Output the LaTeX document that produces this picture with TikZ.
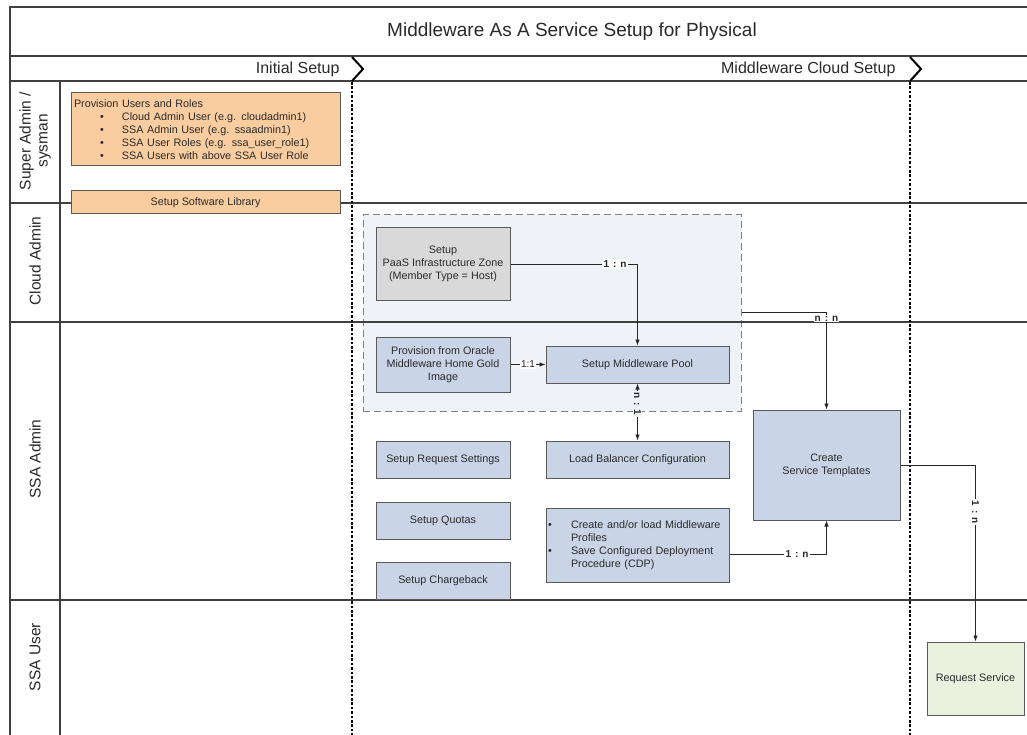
\documentclass[tikz,border=0pt]{standalone}
\usepackage{fontspec}
\setmainfont{Liberation Sans}
\usetikzlibrary{arrows.meta,calc}
\definecolor{orangebox}{HTML}{F9CDA0}
\definecolor{bluebox}{HTML}{C9D5E6}
\definecolor{graybox}{HTML}{D9D9D9}
\definecolor{greenbox}{HTML}{EAF1DE}
\definecolor{groupfill}{HTML}{EFF2F7}
\definecolor{laneline}{HTML}{404040}
\definecolor{boxline}{HTML}{5A5A5A}
\definecolor{txt}{HTML}{2A2A2A}
\tikzset{
  lane/.style={draw=laneline, line width=1.2pt},
  phasedots/.style={draw=black, line width=2.8pt, dash pattern=on 2.6pt off 1.8pt},
  chev/.style={draw=black, line width=2pt, line join=miter},
  boxbase/.style={draw=boxline, line width=1pt, inner sep=2pt, align=center,
    font=\fontsize{10.8}{13}\selectfont, text=txt},
  orangestep/.style={boxbase, fill=orangebox},
  bluestep/.style={boxbase, fill=bluebox},
  graystep/.style={boxbase, fill=graybox},
  greenstep/.style={boxbase, fill=greenbox},
  conn/.style={draw=black!85, line width=0.9pt},
  tip/.style={-{Latex[length=6pt,width=4.5pt]}},
  multlabel/.style={fill=white, inner sep=1.2pt, font=\bfseries\fontsize{10}{12}\selectfont, text=black!85},
  lanelabel/.style={rotate=90, align=center, font=\fontsize{15.5}{17}\selectfont, text=txt},
  phaselabel/.style={anchor=east, font=\fontsize{16}{18}\selectfont, text=txt},
}
\newcommand{\mycolon}{\hspace{4pt}:\hspace{4pt}}
\begin{document}
\begin{tikzpicture}[x=1pt,y=-1pt]
\fill[white] (0,0) rectangle (1027,735);
\useasboundingbox (0,0) rectangle (1027,735);

% group container
\node[draw=gray, fill=groupfill, dash pattern=on 7pt off 4pt, line width=1pt,
      minimum width=378pt, minimum height=196pt, inner sep=0pt] (grp) at (552,313) {};

% frame and lanes
\draw[lane] (1027,7) -- (10,7) -- (10,735);
\draw[lane] (10,56) -- (1027,56);
\draw[lane] (10,81) -- (1027,81);
\draw[lane] (10,203) -- (1027,203);
\draw[lane] (10,322) -- (1027,322);
\draw[lane] (10,600) -- (1027,600);
\draw[lane] (60,81) -- (60,735);

% title and phases
\node[font=\fontsize{19}{22}\selectfont, text=txt] (title) at (572,32) {Middleware As A Service Setup for Physical};
\node[phaselabel] (ph1) at (343,69) {Initial Setup};
\node[phaselabel] (ph2) at (899,69) {Middleware Cloud Setup};
\draw[chev] (352,57) -- (363,69) -- (352,81);
\draw[chev] (910,57) -- (921,69) -- (910,81);
\draw[phasedots] (352,82) -- (352,735);
\draw[phasedots] (910,82) -- (910,735);

% lane labels
\node[lanelabel] (l1) at (35,141) {Super Admin /\\sysman};
\node[lanelabel] (l2) at (35,261) {Cloud Admin};
\node[lanelabel] (l3) at (35,459) {SSA Admin};
\node[lanelabel] (l4) at (35,657) {SSA User};

% boxes
\node[orangestep, minimum width=269pt, minimum height=73pt, align=left, text width=263pt] (prov) at (205.5,129.5)
 {Provision Users and Roles\\
  \hspace*{26pt}\makebox[22pt][l]{•}Cloud Admin User (e.g. cloudadmin1)\\
  \hspace*{26pt}\makebox[22pt][l]{•}SSA Admin User (e.g. ssaadmin1)\\
  \hspace*{26pt}\makebox[22pt][l]{•}SSA User Roles (e.g. ssa\_user\_role1)\\
  \hspace*{26pt}\makebox[22pt][l]{•}SSA Users with above SSA User Role};
\node[orangestep, minimum width=269pt, minimum height=23pt, inner sep=0pt] (swlib) at (205.5,202.5) {Setup Software Library};

\node[graystep, minimum width=134pt, minimum height=72pt] (paas) at (443,264) {Setup\\PaaS Infrastructure Zone\\(Member Type = Host)};
\node[bluestep, minimum width=134pt, minimum height=55pt] (gold) at (443,364.5) {Provision from Oracle\\Middleware Home Gold\\Image};
\node[bluestep, minimum width=183pt, minimum height=37pt] (pool) at (637.5,364.5) {Setup Middleware Pool};
\node[bluestep, minimum width=183pt, minimum height=37pt] (lb) at (637.5,459.5) {Load Balancer Configuration};
\node[bluestep, minimum width=134pt, minimum height=37pt] (req) at (443,459.5) {Setup Request Settings};
\node[bluestep, minimum width=134pt, minimum height=37pt] (quo) at (443,520.5) {Setup Quotas};
\node[bluestep, minimum width=134pt, minimum height=37pt] (chg) at (443,581) {Setup Chargeback};
\node[bluestep, minimum width=183pt, minimum height=74pt, align=left, text width=179pt] (cdp) at (637.5,545)
 {\makebox[23pt][l]{•}Create and/or load Middleware\\
  \hspace*{23pt}Profiles\\
  \makebox[23pt][l]{•}Save Configured Deployment\\
  \hspace*{23pt}Procedure (CDP)};
\node[bluestep, minimum width=147pt, minimum height=110pt] (cst) at (826.5,465) {Create\\Service Templates};
\node[greenstep, minimum width=97pt, minimum height=73pt] (rs) at (975.5,678.5) {Request Service};

% connectors
\draw[conn, tip] (paas.east) -| (pool.north);
\node[multlabel] (m1) at (615,264) {1\mycolon n};
\draw[conn, tip] (gold.east) -- (pool.west);
\node[multlabel, font=\fontsize{10}{12}\selectfont] (m2) at (528,364.5) {1:1};
\draw[conn, {Latex[length=6pt,width=4.5pt]}-{Latex[length=6pt,width=4.5pt]}] (pool.south) -- (lb.north);
\node[multlabel, rotate=-90, fill=groupfill] (m3) at (637.5,404) {n\mycolon 1};
\draw[conn, tip] ([yshift=-9.5pt]cdp.east) -| (cst.south);
\node[multlabel] (m4) at (797,554.5) {1\mycolon n};
\draw[conn, tip] ([yshift=1pt]grp.east) -| (cst.north);
\node[multlabel] (m5) at (826.5,318.5) {n\mycolon n};
\draw[conn, tip] (cst.east) -| (rs.north);
\node[multlabel, rotate=-90] (m6) at (975.5,512) {1\mycolon n};
\end{tikzpicture}
\end{document}
